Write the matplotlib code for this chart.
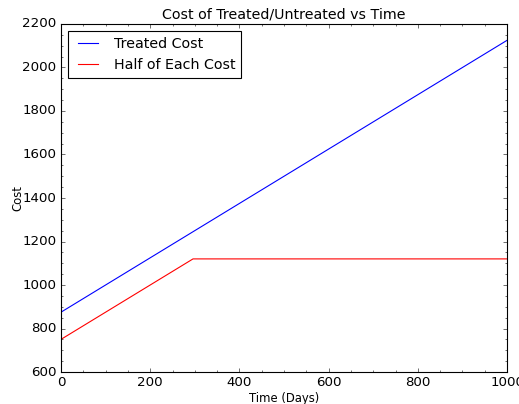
import numpy as np
import matplotlib
matplotlib.use('Agg')
import matplotlib.pyplot as plt
from matplotlib.ticker import MultipleLocator

plt.style.use('classic')

# data
days = [0, 296, 1000]
treated_cost = [875, 1245, 2125]
half_cost = [750, 1120, 1120]

fig = plt.figure(figsize=(519 / 80, 404 / 80), dpi=80)
ax = fig.add_axes([0.1175, 0.0792, 0.977 - 0.1175, 0.9406 - 0.0792])

ax.plot(days, treated_cost, 'b-', label='Treated Cost')
ax.plot(days, half_cost, 'r-', label='Half of Each Cost')

ax.set_xlim(0, 1000)
ax.set_ylim(600, 2200)
ax.xaxis.set_minor_locator(MultipleLocator(50))
ax.yaxis.set_minor_locator(MultipleLocator(50))

ax.set_title('Cost of Treated/Untreated vs Time', fontsize=12.8)
ax.set_xlabel('Time (Days)', fontsize=10.5, labelpad=2)
ax.set_ylabel('Cost', fontsize=10.5, labelpad=-2)
ax.legend(loc='upper left', fontsize=12.8)

fig.savefig('out.png', dpi=80)
